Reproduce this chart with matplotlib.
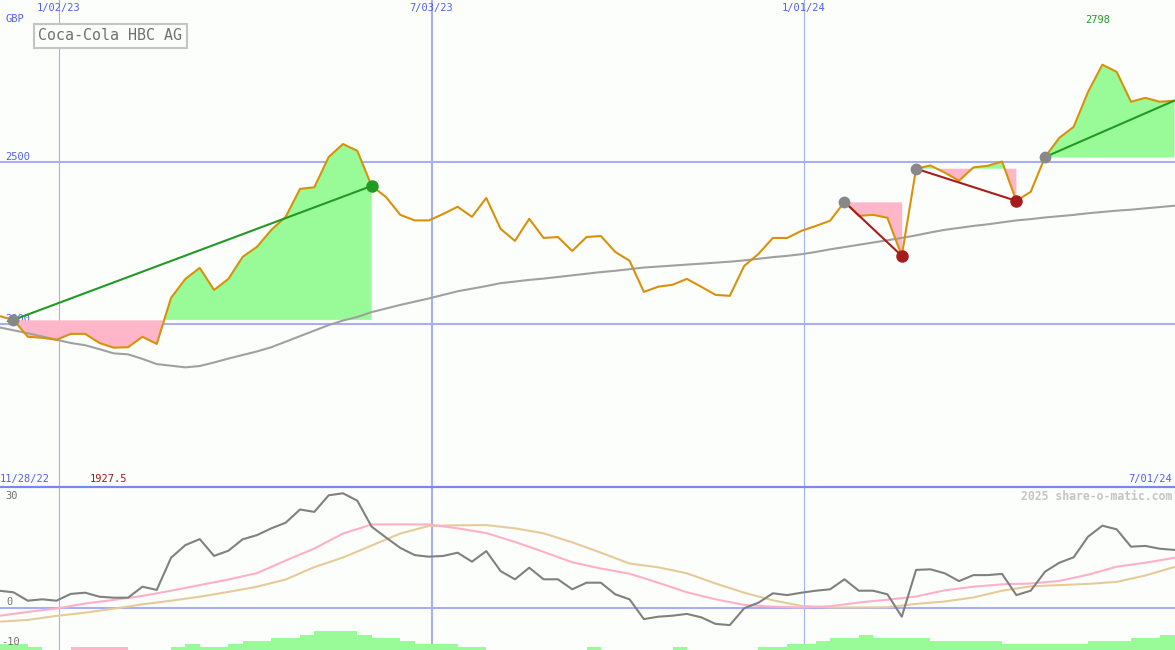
import numpy as np
import pandas as pd
import matplotlib
matplotlib.use('Agg')
import matplotlib.pyplot as plt
import matplotlib.dates as mdates
import matplotlib.transforms as mtransforms
from matplotlib.lines import Line2D

# weekly closes (GBp)
dates = pd.date_range('2022-12-03 18:00', periods=83, freq='7D')
price = [2025, 2013, 1961, 1958, 1952, 1970, 1970, 1942, 1927.5, 1929, 1961,
         1939, 2081, 2139, 2173, 2105, 2139, 2207, 2238, 2290, 2330,
         2416, 2421, 2514, 2554, 2533, 2425, 2391, 2336, 2319, 2319,
         2339, 2361, 2330, 2388, 2293, 2256, 2324, 2265, 2268, 2225,
         2268, 2271, 2222, 2195, 2099, 2115, 2121, 2139, 2115, 2090,
         2087, 2179, 2216, 2265, 2265, 2287, 2302, 2318, 2376, 2333,
         2336, 2327, 2210, 2478, 2488, 2466, 2441, 2482, 2487, 2500,
         2379, 2407, 2514, 2573, 2607, 2714, 2798, 2776, 2684, 2696,
         2684, 2687]
# long moving average (grey)
ma = [1990, 1981, 1972, 1962, 1952, 1942, 1935, 1923, 1910, 1907, 1893,
      1877, 1872, 1867, 1871, 1882, 1894, 1905, 1916, 1929, 1946,
      1963, 1980, 1997, 2011, 2022, 2037, 2048, 2059, 2069, 2079,
      2090, 2101, 2109, 2117, 2126, 2131, 2136, 2140, 2145, 2150,
      2155, 2160, 2164, 2169, 2174, 2177, 2180, 2183, 2186, 2189,
      2192, 2196, 2201, 2206, 2210, 2215, 2222, 2230, 2237, 2244,
      2251, 2258, 2265, 2273, 2282, 2290, 2296, 2302, 2307, 2313,
      2319, 2323, 2328, 2332, 2336, 2341, 2345, 2349, 2352, 2356,
      2360, 2364]

# lower panel
osc = [4.2, 3.8, 1.7, 2.05, 1.7, 3.4, 3.7, 2.7, 2.45, 2.45, 5.2,
       4.4, 12.45, 15.6, 17.1, 12.9, 14.2, 17.05, 18.1, 19.8, 21.2,
       24.5, 23.9, 28.05, 28.55, 26.7, 20.2, 17.5, 14.9, 13.1, 12.7,
       12.9, 13.7, 11.45, 14.1, 9.1, 7.05, 9.95, 7.05, 7.05, 4.55,
       6.2, 6.2, 3.3, 2.05, -2.9, -2.3, -2.05, -1.6, -2.45, -4.1,
       -4.4, -0.2, 1.2, 3.55, 3.1, 3.7, 4.2, 4.55, 7.05, 4.2,
       4.2, 3.3, -2.3, 9.4, 9.55, 8.55, 6.6, 8.1, 8.1, 8.4,
       3.1, 4.2, 8.95, 11.2, 12.55, 17.7, 20.45, 19.55, 15.2, 15.4,
       14.7, 14.4]
osc_dates = dates[::2]
osc_fast = [-2.1, -1.1, -0.25, 1.0, 1.9, 2.9, 4.2, 5.6, 7.0, 8.6, 11.75,
            14.75, 18.5, 20.75, 20.8, 20.75, 19.8, 18.6, 16.4, 13.9, 11.3,
            9.75, 8.45, 6.2, 3.8, 2.05, 0.65, 0.2, 0.0, 0.3, 1.25,
            1.95, 2.75, 4.3, 5.2, 5.8, 6.0, 6.65, 8.2, 10.2, 11.2, 12.4]
osc_slow = [-3.55, -3.1, -2.1, -1.3, -0.3, 0.8, 1.7, 2.7, 3.9, 5.2, 7.0,
            10.1, 12.5, 15.5, 18.5, 20.4, 20.55, 20.6, 19.8, 18.55, 16.3,
            13.7, 11.0, 10.05, 8.55, 6.0, 3.7, 1.8, 0.4, 0.0, 0.0,
            0.05, 0.9, 1.5, 2.5, 4.2, 5.3, 5.6, 5.9, 6.4, 8.0, 10.1]
hist = [1.5, 1.5, 0.75, 0, 0, -0.75, -0.75, -0.75, -0.75, 0, 0, 0,
        0.75, 1.5, 0.75, 0.75, 1.5, 2.25, 2.25, 3, 3, 3.75,
        4.75, 4.75, 4.75, 3.75, 3, 3, 2.25, 1.5, 1.5, 1.5,
        0.75, 0.75, 0, 0, 0, 0, 0, 0, 0, 0.75,
        0, 0, 0, 0, 0, 0.75, 0, 0, 0, 0,
        0, 0.75, 0.75, 1.5, 1.5, 2.25, 3, 3, 3.75, 3,
        3, 3, 3, 2.25, 2.25, 2.25, 2.25, 2.25, 1.5, 1.5,
        1.5, 1.5, 1.5, 1.5, 2.25, 2.25, 2.25, 3, 3, 3.75,
        3.75]

# trades: (entry index, exit index, closed?)
trades = [(1, 26, True), (59, 63, True), (64, 71, True), (73, 82, False)]

year_lines = ['2023-01-02', '2023-07-03', '2024-01-01']
year_labels = ['1/02/23', '7/03/23', '1/01/24']
price_levels = [2000, 2500]

bg = '#fcfefc'
grid = '#a6aef4'
blue = '#5060f0'
mono = 'DejaVu Sans Mono'

price = np.array(price)
xnum = mdates.date2num(dates)

fig = plt.figure(figsize=(11.75, 6.5), dpi=100, facecolor=bg)
ax = fig.add_axes([0, 164 / 650, 1, 486 / 650], facecolor=bg)
ax2 = fig.add_axes([0, 0, 1, 163 / 650], facecolor=bg)
for a in (ax, ax2):
    a.set_axis_off()
    a.set_xlim(mdates.date2num(pd.Timestamp('2022-12-04 04:00')),
               mdates.date2num(pd.Timestamp('2024-06-30 06:00')))
ax.set_ylim(1502, 2997)
ax2.set_ylim(-10.625, 30.125)

for i, d in enumerate(year_lines):
    lw = 1.5 if i == 1 else 0.8
    xd = mdates.date2num(pd.Timestamp(d))
    ax.axvline(xd, color=grid, lw=lw, zorder=0)
    ax2.axvline(xd, color=grid, lw=lw, zorder=0)
for lv in price_levels:
    ax.axhline(lv, color=grid, lw=1.5, zorder=0)
ax2.axhline(0, color=grid, lw=1.5, zorder=0)
fig.add_artist(Line2D([0, 1], [1 - 486.5 / 650] * 2, transform=fig.transFigure,
                      color='#7888ee', lw=1.6))

# trade shading
for e, x, closed in trades:
    d = xnum[e:x + 1]
    p = price[e:x + 1]
    base = price[e]
    ax.fill_between(d, p, base, where=p >= base, interpolate=True,
                    color='#98fb98', lw=0, zorder=1)
    ax.fill_between(d, p, base, where=p <= base, interpolate=True,
                    color='#ffb6c8', lw=0, zorder=1)

ax.plot(xnum, ma, color='#a0a0a0', lw=1.5, zorder=2)
ax.plot(xnum, price, color='#d8920a', lw=1.5, zorder=3)

for e, x, closed in trades:
    win = price[x] >= price[e]
    col = '#229922' if win else '#a81c1c'
    ax.plot([xnum[e], xnum[x]], [price[e], price[x]], color=col, lw=1.5, zorder=4)
    ax.plot(xnum[e], price[e], 'o', color='#888888', ms=8.5, mec='none', zorder=5)
    if closed:
        ax.plot(xnum[x], price[x], 'o', color=col, ms=9, mec='none', zorder=5)

# lower panel
bar_cols = ['#98fb98' if h >= 0 else '#ffb6c8' for h in hist]
ax2.bar(xnum, np.abs(hist), width=7, align='edge', bottom=-10.625,
        color=bar_cols, lw=0, zorder=1)
ax2.plot(mdates.date2num(osc_dates), osc_slow, color='#e6cb98', lw=1.5, zorder=2)
ax2.plot(mdates.date2num(osc_dates), osc_fast, color='#ffb0c8', lw=1.5, zorder=3)
ax2.plot(xnum, osc, color='#808080', lw=1.5, zorder=4)

# texts
top = mtransforms.blended_transform_factory(ax.transData, ax.transAxes)
for d, lab in zip(year_lines, year_labels):
    ax.text(mdates.date2num(pd.Timestamp(d)), 1 - 8 / 486, lab, transform=top,
            ha='center', va='center', color=blue, family=mono, fontsize=7.5)
ax.text(5 / 1175, 1 - 19 / 486, 'GBP', transform=ax.transAxes, color=blue,
        family=mono, fontsize=7.5, va='center')
for lv in price_levels:
    ax.annotate(str(lv), xy=(0, lv), xycoords=('axes fraction', 'data'),
                xytext=(5, 5), textcoords='offset pixels', va='center',
                color=blue, family=mono, fontsize=7.5, zorder=0)
ax.text(38 / 1175, 1 - 36 / 486, 'Coca-Cola HBC AG', transform=ax.transAxes,
        va='center', ha='left', color='#707070', family=mono, fontsize=10.8,
        bbox=dict(boxstyle='square,pad=0.3', fc=bg, ec='#c4c4c4', lw=1.5))

imax = int(np.argmax(price))
imin = int(np.argmin(price))
ax.annotate(f'{price[imax]:g}', xy=(xnum[imax], 1), xycoords=('data', 'axes fraction'),
            xytext=(-5, -20), textcoords='offset pixels', ha='center',
            va='center', color='#229922', family=mono, fontsize=7.5)
ax.annotate(f'{price[imin]:g}', xy=(xnum[imin], 0), xycoords=('data', 'axes fraction'),
            xytext=(-5, 7), textcoords='offset pixels', ha='center',
            va='center', color='#a01818', family=mono, fontsize=7.5)
ax.text(0, 7 / 486, '11/28/22', transform=ax.transAxes, ha='left', va='center',
        color=blue, family=mono, fontsize=7.5)
ax.text(1 - 3 / 1175, 7 / 486, '7/01/24', transform=ax.transAxes, ha='right',
        va='center', color=blue, family=mono, fontsize=7.5)

ax2.text(1 - 3 / 1175, 1 - 9 / 163, '2025 share-o-matic.com', transform=ax2.transAxes,
         ha='right', va='center', color='#c4c4c4', family=mono, fontsize=8.3,
         fontweight='bold')
for lab, xx, yy in [('30', 5, 496), ('0', 6, 602), ('-10', 1, 642)]:
    ax2.text(xx / 1175, (650 - yy) / 163, lab, transform=ax2.transAxes,
             ha='left', va='center', color='#707070', family=mono, fontsize=7.5)

fig.savefig('out.png', dpi=100, facecolor=bg)
